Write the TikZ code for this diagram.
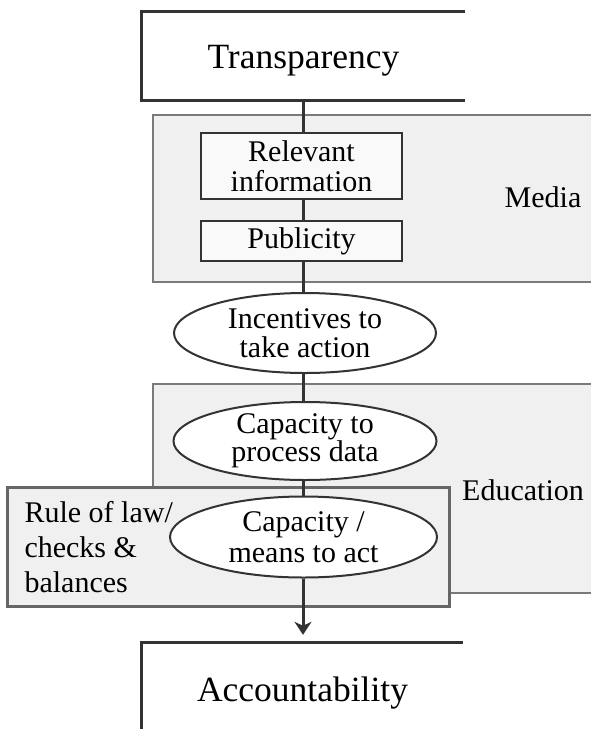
\documentclass[tikz,border=0pt]{standalone}
\usepackage{fontspec}
\setmainfont{Liberation Serif}
\usetikzlibrary{arrows.meta,shapes.geometric}
\definecolor{panelfill}{HTML}{F0F0F0}
\definecolor{panelline}{HTML}{7A7A7A}
\definecolor{ruleline}{HTML}{666666}
\definecolor{darkline}{HTML}{333333}
\tikzset{
  bigtext/.style={font=\fontsize{35.5}{38}\selectfont},
  smalltext/.style={font=\fontsize{30}{30}\selectfont, align=center},
  panel/.style={draw=panelline, fill=panelfill, line width=2pt, inner sep=0pt},
  rulepanel/.style={draw=ruleline, fill=panelfill, line width=3pt, inner sep=0pt},
  innerbox/.style={draw=darkline, fill=white!60!panelfill, line width=2pt, smalltext, inner sep=0pt},
  oval/.style={ellipse, draw=darkline, fill=white, line width=2pt, smalltext, inner sep=0pt},
  frame/.style={draw=darkline, line width=3pt},
  link/.style={draw=darkline, line width=3pt},
  outerbox/.style={rectangle, inner sep=0pt, bigtext}
}
\begin{document}
\begin{tikzpicture}[x=1pt,y=-1pt]
\useasboundingbox (0,0) rectangle (590,729);
% panels
\node[panel, minimum width=440pt, minimum height=167pt] (mediabox) at (373,198.5) {};
\node[smalltext, anchor=center] (media) at (543,197) {Media};
\node[panel, minimum width=440pt, minimum height=209pt] (edubox) at (373,488.5) {};
\node[smalltext] (edu) at (523,490) {Education};
\node[rulepanel, minimum width=442pt, minimum height=119pt] (rulebox) at (228,546.5) {};
\node[anchor=base west, align=left, font=\fontsize{30}{35}\selectfont] (rule) at (21,592) {Rule of law/\\checks \&\\balances};
% top and bottom boxes (open at the right)
\node[outerbox, minimum width=323pt, minimum height=88pt] (trans) at (303.5,56) {};
\fill[white] (trans.north west) rectangle (trans.south east);
\node[bigtext] (transtext) at ([yshift=-5pt]trans.center) {Transparency};
\draw[frame] (trans.north east) -- (trans.north west) -- (trans.south west) -- (trans.south east);
\node[outerbox, minimum width=321pt, minimum height=94pt] (acc) at (302.5,690) {};
\fill[white] (acc.north west) rectangle (acc.south east);
\node[bigtext] (acctext) at ([yshift=-3pt]acc.center) {Accountability};
\draw[frame] (acc.north east) -- (acc.north west) -- (acc.south west);
% inner nodes
\node[innerbox, minimum width=201pt, minimum height=66pt] (relinfo) at (301.5,166) {Relevant\\[0pt]information};
\node[innerbox, minimum width=201pt, minimum height=40pt] (pub) at (301.5,241) {Publicity};
\node[oval, minimum width=262pt, minimum height=80pt] (incent) at (305,333) {Incentives to\\[-1pt]take action};
\node[oval, minimum width=263pt, minimum height=78pt] (cap1) at (305,441) {Capacity to\\[-2pt]process data};
\node[oval, minimum width=267pt, minimum height=81pt] (cap2) at (303.5,537) {Capacity /\\[1pt]means to act};
% connectors
\draw[link] (trans.south -| 303,0) -- (relinfo.north -| 303,0);
\draw[link] (relinfo.south -| 303,0) -- (pub.north -| 303,0);
\draw[link] (pub.south -| 303,0) -- (incent.north -| 303,0);
\draw[link] (incent.south -| 303,0) -- (cap1.north -| 303,0);
\draw[link] (cap1.south -| 303,0) -- (cap2.north -| 303,0);
\draw[link, -{Stealth[length=13pt,width=17pt,inset=4pt]}, shorten >=8pt] (cap2.south -| 303,0) -- (acc.north -| 303,0);
\end{tikzpicture}
\end{document}
